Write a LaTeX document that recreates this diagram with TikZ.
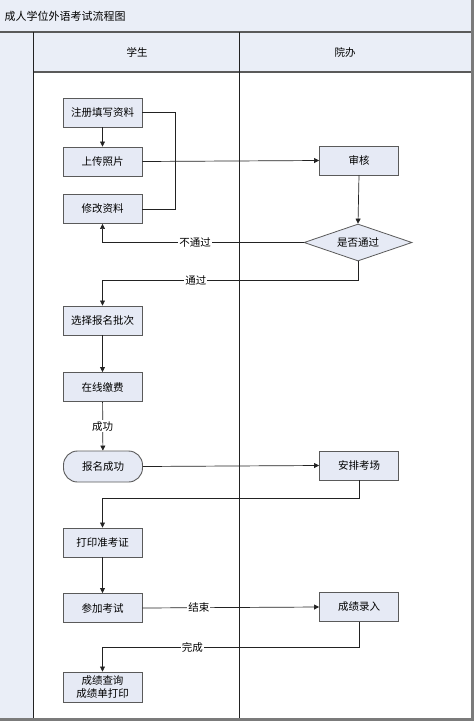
\documentclass[tikz,border=0pt]{standalone}
\usepackage{fontspec}
\setmainfont{Noto Sans CJK SC}
\usetikzlibrary{shapes.geometric,arrows.meta}
\definecolor{lanefill}{HTML}{EAEEF7}
\definecolor{boxfill}{HTML}{E6EAF5}
\definecolor{frame}{HTML}{5A5A5A}
\definecolor{lineclr}{HTML}{222222}
\tikzset{
  txt/.style={font=\fontsize{10.5}{12.5}\selectfont},
  procbox/.style={txt, draw=frame, line width=0.9pt, fill=boxfill, minimum width=79pt, minimum height=29pt, inner sep=1pt, align=center},
  roundbox/.style={procbox, rounded corners=14pt},
  decision/.style={txt, draw=frame, line width=0.8pt, fill=boxfill, diamond, aspect=2.9, minimum width=108pt, minimum height=37pt, inner sep=0pt},
  flow/.style={draw=lineclr, line width=0.7pt, -{Triangle[length=5pt,width=5pt]}},
  plain/.style={draw=lineclr, line width=0.7pt},
  lbl/.style={txt, fill=white, inner sep=1pt},
  hdr/.style={txt}
}
\begin{document}
\begin{tikzpicture}[x=1pt,y=-1pt]
\useasboundingbox (0,0) rectangle (474,721);
% backgrounds
\fill[lanefill] (0,0) rectangle (472,32);
\fill[lanefill] (0,32) rectangle (33,719);
\fill[lanefill] (33,32) rectangle (472,72);
% frame lines
\draw[frame, line width=1.2pt] (0,32) -- (472,32);
\draw[frame, line width=1.2pt] (33,72) -- (472,72);
\draw[lineclr, line width=0.9pt] (33,32) -- (33,719);
\draw[lineclr, line width=0.9pt] (239,32) -- (239,719);
\draw[frame!80, line width=2.5pt] (472.5,0) -- (472.5,721);
\draw[frame!80, line width=3pt] (0,719.5) -- (474,719.5);
% texts
\node[hdr, anchor=west, font=\fontsize{11}{13}\selectfont] (title) at (1,16) {成人学位外语考试流程图};
\node[hdr] (stu) at (137,52) {学生};
\node[hdr] (off) at (345,52) {院办};
% nodes
\node[procbox] (reg) at (102.5,112.5) {注册填写资料};
\node[procbox] (up) at (102.5,161.5) {上传照片};
\node[procbox] (mod) at (102.5,209) {修改资料};
\node[procbox] (rev) at (359,160.5) {审核};
\node[decision] (dec) at (358,242.5) {是否通过};
\node[procbox] (sel) at (102.5,320.5) {选择报名批次};
\node[procbox] (pay) at (102.5,387) {在线缴费};
\node[roundbox, minimum height=31pt] (ok) at (103,466.5) {报名成功};
\node[procbox] (arr) at (359,465.5) {安排考场};
\node[procbox] (prt) at (102.5,542.5) {打印准考证};
\node[procbox] (exam) at (102.5,608) {参加考试};
\node[procbox] (score) at (359,607) {成绩录入};
\node[procbox, minimum height=30pt, font=\fontsize{10.5}{13}\selectfont] (qry) at (102.5,687) {成绩查询\\成绩单打印};
% connectors
\draw[flow] (reg) -- (up);
\draw[plain] (reg.east) -- (175,112.5) -- (175,209) -- (mod.east);
\draw[flow] (up.east) -- (rev.west);
\draw[flow] (rev.south) -- (dec.north);
\draw[flow] (dec.west) -- (102.5,242.5) node[lbl, pos=0.54] {不通过} -- (mod.south);
\draw[flow] (dec.south) -- (358,280) -- (102.5,280) node[lbl, pos=0.635] {通过} -- (sel.north);
\draw[flow] (sel) -- (pay);
\draw[flow] (pay) -- node[lbl] {成功} (ok);
\draw[flow] (ok.east) -- (arr.west);
\draw[flow] (arr.south) -- (359,498) -- (102.5,498) -- (prt.north);
\draw[flow] (prt) -- (exam);
\draw[flow] (exam.east) -- node[lbl, pos=0.32] {结束} (score.west);
\draw[flow] (score.south) -- (359,647) -- (102.5,647) node[lbl, pos=0.65] {完成} -- (qry.north);
\end{tikzpicture}
\end{document}
